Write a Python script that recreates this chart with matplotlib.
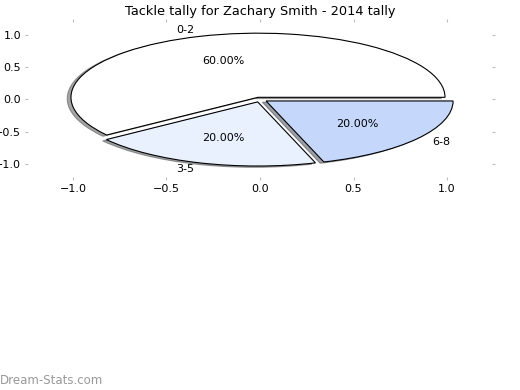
import matplotlib
matplotlib.use("Agg")
import matplotlib.pyplot as plt

labels = ["0-2", "3-5", "6-8"]
values = [3, 1, 1]
colors = ["#ffffff", "#eaf1fe", "#c5d8fc"]
explode = [0.035, 0.04, 0.04]

fig = plt.figure(figsize=(5.2, 3.9), dpi=100)
ax = fig.add_axes([0.054, 0.546, 0.892, 0.398])
# shadow offset is given in points and scaled by dpi/72, so undo that
ax.pie(values, labels=labels, colors=colors, explode=explode, autopct="%1.2f%%",
       shadow={"ox": -0.02 * 72 / 100, "oy": -0.02 * 72 / 100},
       startangle=0, frame=True,
       wedgeprops={"edgecolor": "black", "linewidth": 0.8},
       textprops={"fontsize": 8})
ax.set_aspect("auto")
ax.set_xlim(-1.24, 1.24)
ax.set_ylim(-1.21, 1.21)
ax.set_xticks([-1.0, -0.5, 0.0, 0.5, 1.0])
ax.set_yticks([-1.0, -0.5, 0.0, 0.5, 1.0])
for s in ax.spines.values():
    s.set_visible(False)
ax.tick_params(axis="both", which="both", top=True, right=True, length=2.5, pad=2.5,
               color="#bbbbbb", labelsize=8, labelcolor="black")
ax.set_title("Tackle tally for Zachary Smith - 2014 tally", fontsize=9.3, pad=5)

fig.text(0.0, 0.008, "Dream-Stats.com", fontsize=8.5, color="#999999", ha="left", va="bottom")

fig.savefig("out.png", dpi=100)
